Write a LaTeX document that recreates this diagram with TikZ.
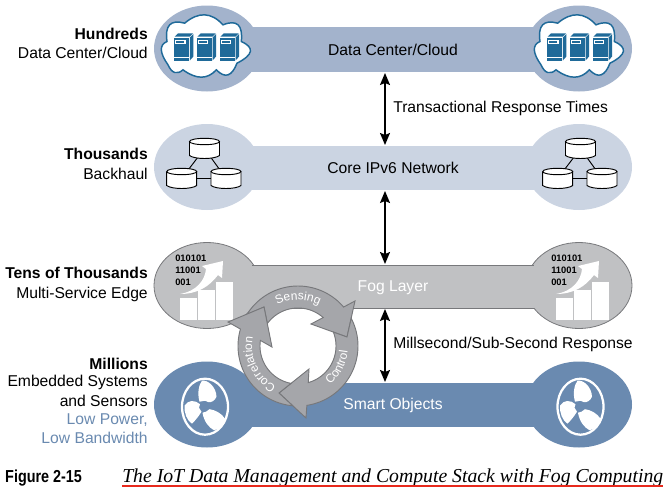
\documentclass[tikz,border=0pt]{standalone}
\usepackage{fontspec}
\setmainfont{Liberation Sans}
\newfontfamily\capserif{Liberation Serif}
\usetikzlibrary{decorations.text,arrows.meta,calc}
\definecolor{cloudband}{HTML}{A3B3CC}
\definecolor{coreband}{HTML}{CBD4E2}
\definecolor{fogband}{HTML}{C0C1C3}
\definecolor{fogedge}{HTML}{77787B}
\definecolor{smartband}{HTML}{6A8AB0}
\definecolor{iconblue}{HTML}{1F6A99}
\definecolor{ringfill}{HTML}{A5A6AA}
\definecolor{lowblue}{HTML}{6A8AB0}
\definecolor{capred}{HTML}{E8291C}
\newcommand{\qbez}[3]{.. controls ($(#1)!.667!(#2)$) and ($(#3)!.667!(#2)$) .. (#3)}
\tikzset{
 x=0.75pt,y=-0.75pt,
 lbl/.style={font=\fontsize{11.75}{14}\selectfont,inner sep=0pt},
 side/.style={lbl,anchor=east},
 sidebold/.style={side,font=\fontsize{11.75}{14}\selectfont\bfseries},
 sideblue/.style={side,text=lowblue},
 dblarrow/.style={{Stealth[length=9pt,width=7.5pt,inset=1.5pt]}-{Stealth[length=9pt,width=7.5pt,inset=1.5pt]},line width=1.1pt,black},
 ringpart/.style={fill=ringfill,draw=fogedge,line width=0.7pt,line join=miter},
 ringtext/.style={decorate,decoration={text along path,text align={align=center},text color=white,text={|\fontsize{9}{10}\selectfont|#1}}},
 cyl/.pic={
  \path[fill=white,draw=black,line width=0.7pt] (-15,-7) -- (-15,7) .. controls (-10,11) and (10,11) .. (15,7) -- (15,-7);
  \path[fill=white,draw=black,line width=0.7pt] (0,-7) ellipse [x radius=15,y radius=3.2];
 },
 server/.pic={
  \fill[iconblue] (0,0) rectangle (15,23);
  \fill[white] (0,19) rectangle (15,20);
  \fill[iconblue] (0.6,-0.8) -- (4,-4.2) -- (19,-4.2) -- (15.6,-0.8) -- cycle;
  \fill[iconblue] (15.8,0) -- (19.4,-3.6) -- (19.4,19) -- (15.8,23) -- cycle;
  \fill[white] (1,2) rectangle (11.5,6.5);
  \fill[iconblue] (2.2,3.2) rectangle (10.3,5.3);
 },
 dcloud/.pic={
  \begin{scope}[x=0.25pt,y=-0.25pt,shift={(-172,-143)}]
  \path[fill=white,draw=iconblue,line width=1.1pt] (52,125)
   \qbez{52,125}{16.5,140}{55,195}
   \qbez{55,195}{72.5,233.5}{100,210}
   \qbez{100,210}{160,254}{200,210}
   \qbez{200,210}{239,250}{262,190}
   \qbez{262,190}{335.5,152.5}{275,125}
   \qbez{275,125}{282.5,50}{220,75}
   \qbez{220,75}{167.5,17.5}{105,70}
   \qbez{105,70}{41.5,52.5}{52,125} -- cycle;
  \end{scope}
  \path (-33,-10) pic {server} (-10.3,-10) pic {server} (12.7,-10) pic {server};
 },
 dbtrio/.pic={
  \coordinate (-t) at (-0.5,-18.5);
  \coordinate (-l) at (-23.3,11.5);
  \coordinate (-r) at (21,11.5);
  \draw[black,line width=0.7pt] (-t) -- (-l) -- (-r) -- (-t);
  \path (-t) pic {cyl} (-l) pic {cyl} (-r) pic {cyl};
 },
 fogicon/.pic={
  \node[anchor=west,inner sep=0pt,font=\fontsize{7}{8}\selectfont\bfseries] at (-32,-26) {010101};
  \node[anchor=west,inner sep=0pt,font=\fontsize{7}{8}\selectfont\bfseries] at (-32,-14) {11001};
  \node[anchor=west,inner sep=0pt,font=\fontsize{7}{8}\selectfont\bfseries] at (-32,-2) {001};
  \fill[white] (-27,14) rectangle (-10,36);
  \fill[white] (-9,6) rectangle (8,36);
  \fill[white] (9,-2.5) rectangle (26,36);
  \fill[white] (-27,10) .. controls (-10,7) and (-2,-4) .. (-1,-15) -- (-5,-18) -- (16,-23) -- (15,-6) -- (11,-9) .. controls (2,3) and (-10,10) .. (-27,10) -- cycle;
 },
 fanicon/.pic={
  \draw[white,line width=1.7pt] (0,0) ellipse [x radius=23,y radius=28];
  \fill[white] (-5.5,-5) .. controls (-8,-14) and (-6,-22) .. (-3,-26) .. controls (3,-27) and (11,-20) .. (11.5,-10) .. controls (10,-6) and (6,-4) .. (3.5,-4.5) -- (0,-6) -- cycle;
  \fill[white] (-5,-2.5) .. controls (-10,-7) and (-17,-7) .. (-20.5,-1) .. controls (-21,6) and (-18,14) .. (-13,17) .. controls (-9,13) and (-6,9) .. (-3.5,5) -- (-6,1) -- cycle;
  \fill[white] (4.5,2.5) .. controls (10,3) and (17,7) .. (20,12) .. controls (18.5,18) and (14,23) .. (9,23.5) .. controls (4,21) and (-1,15) .. (-2.5,6) -- (1,5) -- cycle;
 }
}
\begin{document}
\begin{tikzpicture}
\useasboundingbox (0,0) rectangle (668,497);
% ---- bands
\path[fill=cloudband] (207,48.5) ellipse [x radius=53,y radius=43];
\path[fill=cloudband] (579,48.5) ellipse [x radius=53,y radius=43];
\path[fill=cloudband] (240,27) rectangle (546,72);
\path[fill=coreband] (207,167) ellipse [x radius=53,y radius=43];
\path[fill=coreband] (579,167) ellipse [x radius=53,y radius=43];
\path[fill=coreband] (240,146) rectangle (546,190);
\path[fill=fogband,draw=fogedge,line width=0.6pt] (207,285.5) ellipse [x radius=53,y radius=43];
\path[fill=fogband,draw=fogedge,line width=0.6pt] (579,285.5) ellipse [x radius=53,y radius=43];
\path[fill=fogband] (245,265) rectangle (541,308);
\draw[fogedge,line width=0.6pt] (252,265) -- (534,265) (252,308) -- (534,308);
\path[fill=smartband] (207,404.5) ellipse [x radius=53,y radius=43];
\path[fill=smartband] (579,404.5) ellipse [x radius=53,y radius=43];
\path[fill=smartband] (240,383) rectangle (546,427);
% ---- band titles
\node[lbl] (dc) at (393,50) {Data Center/Cloud};
\node[lbl] (core) at (393,168) {Core IPv6 Network};
\node[lbl,text=white] (fog) at (393,287.5) {Fog Layer};
\node[lbl,text=white] (smart) at (393,405.5) {Smart Objects};
% ---- icons
\path (207,47.5) pic {dcloud} (580,47.5) pic {dcloud};
\path (205,167) pic (dbleft) {dbtrio} (581,167) pic (dbright) {dbtrio};
\path (207,284) pic {fogicon} (583,284) pic {fogicon};
\path (205,406.7) pic {fanicon} (580.5,406.7) pic {fanicon};
% ---- arrows
\coordinate (a1t) at (385,73);
\coordinate (a1b) at (385,145);
\coordinate (a2t) at (385,191);
\coordinate (a2b) at (385,264);
\coordinate (a3t) at (385,309);
\coordinate (a3b) at (385,382);
\draw[dblarrow] (a1t) -- (a1b);
\draw[dblarrow] (a2t) -- (a2b);
\draw[dblarrow] (a3t) -- (a3b);
\node[lbl,anchor=west] (resp1) at (393,108.5) {Transactional Response Times};
\node[lbl,anchor=west] (resp2) at (393,344.5) {Millsecond/Sub-Second Response};
% ---- side labels
\node[sidebold] (h1) at (148,34) {Hundreds};
\node[side] (h2) at (148,53) {Data Center/Cloud};
\node[sidebold] (t1) at (148,154) {Thousands};
\node[side] (t2) at (148,174) {Backhaul};
\node[sidebold] (f1) at (148,273) {Tens of Thousands};
\node[side] (f2) at (148,294) {Multi-Service Edge};
\node[sidebold] (m1) at (148,364) {Millions};
\node[side] (m2) at (148,382) {Embedded Systems};
\node[side] (m3) at (148,401) {and Sensors};
\node[sideblue] (m4) at (148,420) {Low Power,};
\node[sideblue] (m5) at (148,438) {Low Bandwidth};
% ---- ring
\def\cx{298}\def\cy{346}
\path[ringpart]
 plot[domain=211.8:319.5,samples=40] ({\cx+60*cos(\x)},{\cy+60*sin(\x)})
 -- (355,301) -- (347,337) -- (311,324)
 -- plot[domain=311.5:216.4,samples=40] ({\cx+38*cos(\x)},{\cy+38*sin(\x)})
 -- (264,307) -- cycle;
\path[ringpart]
 plot[domain=332.5:441.5,samples=40] ({\cx+60*cos(\x)},{\cy+60*sin(\x)})
 -- (306,418) -- (279,393) -- (309,369)
 -- plot[domain=434.4:338.5,samples=40] ({\cx+38*cos(\x)},{\cy+38*sin(\x)})
 -- (347,337) -- cycle;
\path[ringpart]
 plot[domain=95:196.4,samples=40] ({\cx+60*cos(\x)},{\cy+60*sin(\x)})
 -- (228,322) -- (264,307) -- (272,347)
 -- plot[domain=188.4:100.6,samples=40] ({\cx+38*cos(\x)},{\cy+38*sin(\x)})
 -- (279,393) -- cycle;
\path[ringtext={Sensing}] plot[domain=240:300,samples=30] ({\cx+46*cos(\x)},{\cy+46*sin(\x)});
\path[ringtext={Correlation}] plot[domain=120:190,samples=30] ({\cx+46*cos(\x)},{\cy+46*sin(\x)});
\path[ringtext={Control}] plot[domain=60:-4,samples=30] ({\cx+50*cos(\x)},{\cy+50*sin(\x)});
% ---- caption
\node[anchor=base west,inner sep=0pt,xscale=0.83,font=\fontsize{13}{16}\selectfont\bfseries] (figno) at (5,482.5) {Figure 2-15};
\node[anchor=base west,inner sep=0pt,font=\capserif\fontsize{14.8}{16}\selectfont\itshape] (cap) at (122,482.5) {The IoT Data Management and Compute Stack with Fog Computing};
\coordinate (ul1) at (122,486);
\coordinate (ul2) at (663,486);
\draw[capred,line width=1.2pt] (ul1) -- (ul2);
\end{tikzpicture}
\end{document}
